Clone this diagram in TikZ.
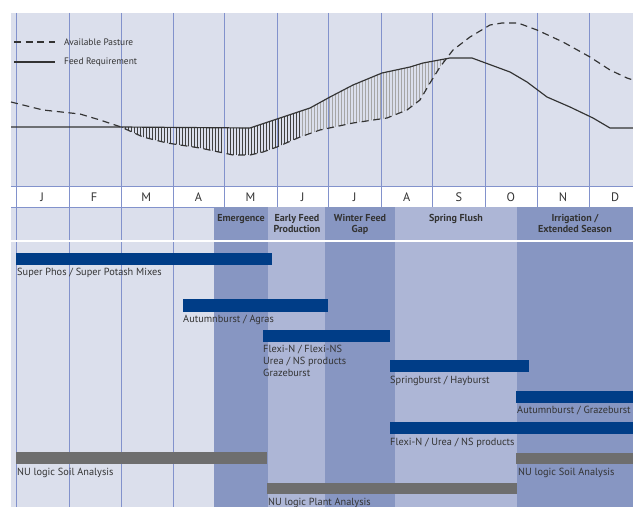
\documentclass[tikz,border=0pt]{standalone}
\usepackage{fontspec}
\setmainfont{PT Sans}
\usetikzlibrary{positioning}

\definecolor{chartbg}{HTML}{DBDFEC}
\definecolor{gridblue}{HTML}{8292CC}
\definecolor{phasedark}{HTML}{8796C2}
\definecolor{phaselight}{HTML}{ADB6D6}
\definecolor{prodblue}{HTML}{003D87}
\definecolor{analysisgray}{HTML}{6E6E6E}
\definecolor{textgray}{HTML}{333333}

\begin{document}
\begin{tikzpicture}[x=0.03cm,y=-0.03cm]
\tikzstyle{monthline}=[draw=gridblue,line width=0.5pt]
\tikzstyle{product}=[fill=prodblue]
\tikzstyle{analysis}=[fill=analysisgray]
\tikzstyle{barlabel}=[anchor=west,inner sep=0pt,font=\fontsize{8.8}{10.2}\selectfont,text=textgray]
\tikzstyle{phase}=[anchor=north,align=center,inner sep=0pt,font=\fontsize{8.6}{9.4}\selectfont\bfseries,text=textgray]
\tikzstyle{month}=[font=\fontsize{10.5}{12}\selectfont,text=textgray]
\tikzstyle{legendtext}=[anchor=west,inner sep=0pt,font=\fontsize{8}{9}\selectfont,text=textgray]

\useasboundingbox (0,0) rectangle (633,507);

% \draw[help lines] (0,0) grid[step=50] (633,507);

% backgrounds
\fill[chartbg] (11,13) rectangle (633,186);
\fill[white] (11,186) rectangle (633,207);
\fill[chartbg] (11,207) rectangle (633,507);

% hatched gap between the two curves
\begin{scope}
\clip (121,127) -- (250,128) -- (280,118) -- (310,108) -- (330,97) -- (353,85) -- (382,73)
      -- (410,67) -- (423,63) -- (447,59) -- (440,67) -- (430,83) -- (420,100) -- (407,110)
      -- (387,118) -- (353,123) -- (320,130) -- (300,137) -- (277,147) -- (263,152)
      -- (250,155) -- (233,155) -- (200,148) -- (167,143) -- (143,137) -- cycle;
\foreach \x in {122,125,...,299}
  \draw[black!75,line width=0.45pt] (\x,50) -- (\x,160);
\foreach \x in {302,305,...,446}
  \draw[gray!70,line width=0.45pt] (\x,50) -- (\x,160);
\end{scope}

% month grid
\foreach \x in {16,69,121,173,224,277,328,381,432,485,537,589}
  \draw[monthline] (\x,13) -- (\x,507);
\draw[monthline] (11,186) -- (633,186);
\draw[monthline] (11,207) -- (633,207);

\foreach \m [count=\i] in {J,F,M,A,M,J,J,A,S,O,N,D}
  \node[month] (m\i) at ({16+52.1*(\i-0.5)},197) {\m};

% curves
\draw[textgray,line width=1pt,dash pattern=on 6pt off 4pt] (11,102) -- (43,110) -- (80,114) -- (100,120)
      -- (121,127) -- (143,137) -- (167,143) -- (200,148) -- (233,155) -- (250,155) -- (263,152)
      -- (277,147) -- (300,137) -- (320,130) -- (353,123) -- (387,118) -- (407,110) -- (420,100)
      -- (430,83) -- (440,67) -- (453,50) -- (470,37) -- (490,25) -- (502,23) -- (518,23)
      -- (537,30) -- (563,42) -- (590,57) -- (610,70) -- (627,78) -- (633,80);
\draw[textgray,line width=1pt] (11,127) -- (121,127) -- (250,128) -- (280,118) -- (310,108)
      -- (330,97) -- (353,85) -- (382,73) -- (410,67) -- (423,63) -- (450,58) -- (472,58)
      -- (510,72) -- (527,82) -- (547,97) -- (570,107) -- (593,118) -- (610,128) -- (633,128);

% legend
\draw[textgray,line width=1pt,dash pattern=on 6pt off 4pt] (14,42) -- (55,42);
\node[legendtext] (pasture) at (64,42) {Available Pasture};
\draw[textgray,line width=1pt] (14,62) -- (55,62);
\node[legendtext] (feedreq) at (64,62) {Feed Requirement};

% phases
\fill[phasedark] (214,207) rectangle (268,507);
\fill[phaselight] (268,207) rectangle (325,507);
\fill[phasedark] (325,207) rectangle (395,507);
\fill[phaselight] (395,207) rectangle (517,507);
\fill[phasedark] (517,207) rectangle (633,507);
\draw[white,line width=1.6pt] (11,241) -- (633,241);

\node[phase] (emergence) at (241,214) {Emergence};
\node[phase] (earlyfeed) at (297,214) {Early Feed\\Production};
\node[phase] (wintergap) at (360,214) {Winter Feed\\Gap};
\node[phase] (springflush) at (456,214) {Spring Flush};
\node[phase] (irrigation) at (575,214) {Irrigation /\\Extended Season};

% products
\fill[product] (16,253) rectangle (272,265);
\node[barlabel] (superphos) at (17,273) {Super Phos / Super Potash Mixes};

\fill[product] (183,299) rectangle (328,312);
\node[barlabel] (agras) at (183,320) {Autumnburst / Agras};

\fill[product] (263,330) rectangle (390,342);
\node[barlabel,anchor=north west,align=left] (flexins) at (263,345) {Flexi-N / Flexi-NS\\Urea / NS products\\Grazeburst};

\fill[product] (390,360) rectangle (529,372);
\node[barlabel] (hayburst) at (390,381) {Springburst / Hayburst};

\fill[product] (516,391) rectangle (633,403);
\node[barlabel] (grazeburst) at (517,411) {Autumnburst / Grazeburst};

\fill[product] (390,422) rectangle (633,434);
\node[barlabel] (flexiurea) at (390,443) {Flexi-N / Urea / NS products};

% analysis
\fill[analysis] (16,452) rectangle (267,464);
\node[barlabel] (soilleft) at (17,473) {NU logic Soil Analysis};

\fill[analysis] (516,453) rectangle (633,464);
\node[barlabel] (soilright) at (518,473) {NU logic Soil Analysis};

\fill[analysis] (267,483) rectangle (517,494);
\node[barlabel] (plant) at (268,503) {NU logic Plant Analysis};
\end{tikzpicture}
\end{document}
